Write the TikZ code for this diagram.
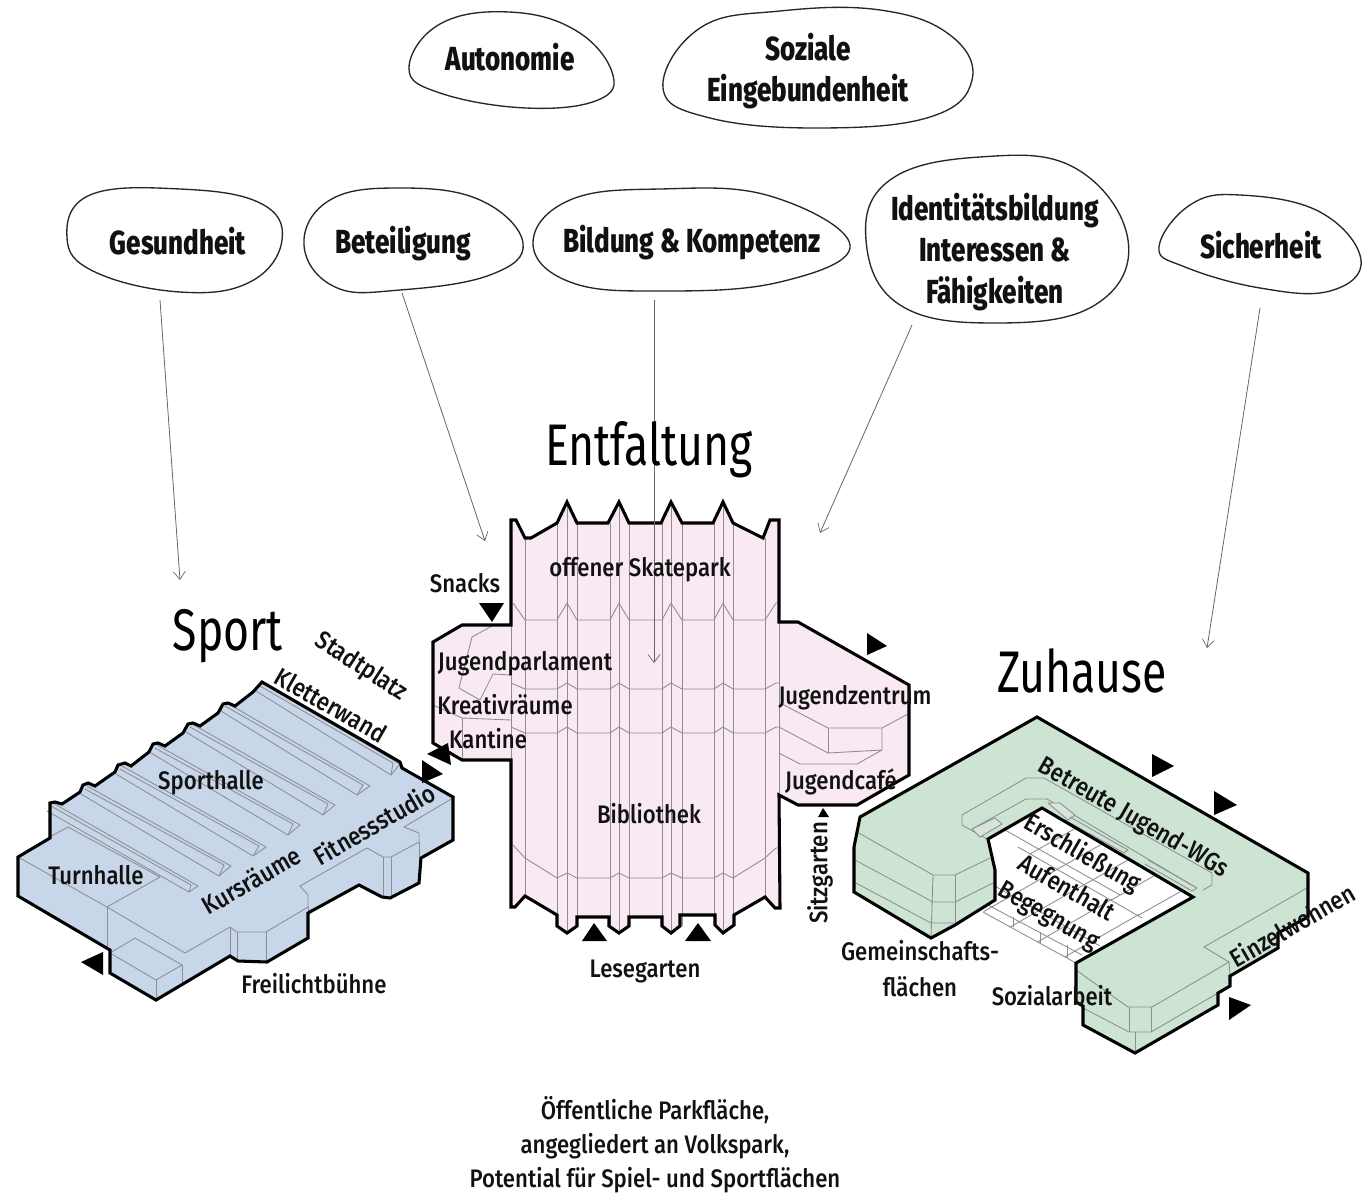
\documentclass[tikz,border=0pt]{standalone}
\usepackage{fontspec}
\setmainfont[FakeStretch=0.76]{Fira Sans}
\newfontfamily\lblfont[FakeStretch=0.875]{Fira Sans Medium}
\newfontfamily\bubfont[FakeStretch=0.78]{Fira Sans ExtraBold}
\usetikzlibrary{arrows.meta,calc}
\definecolor{sportc}{HTML}{C8D6EA}
\definecolor{entc}{HTML}{F8E9F3}
\definecolor{zuc}{HTML}{CDE4D3}
\definecolor{innerc}{HTML}{8E8E92}
\definecolor{txtc}{HTML}{111111}
\tikzset{
 x=0.75pt,y=-0.75pt,
 outline/.style={draw=black,line width=2.3pt,line join=miter},
 inner/.style={draw=innerc,line width=0.65pt,line join=round},
 tri/.style={fill=black,draw=none},
 bub/.style={draw=black!85,line width=1pt},
 arr/.style={draw=black!60,line width=0.6pt,-{Straight Barb[length=6pt,width=9pt,line width=0.5pt]}},
 lbl/.style={inner sep=0pt,text=txtc,font=\lblfont\fontsize{19}{20}\selectfont,align=center},
 ttl/.style={inner sep=0pt,text=black,font=\fontsize{44}{48}\selectfont},
 bubtxt/.style={inner sep=0pt,text=txtc,font=\bubfont\fontsize{25}{31}\selectfont,align=center},
}
\begin{document}
\begin{tikzpicture}
\useasboundingbox (0,0) rectangle (1362,1195);
\fill[white] (0,0) rectangle (1362,1195);
% ---------- Entfaltung
\fill[entc] (511,520)--(516,520)--(525,538)--(531,538)--(557,523)--(567,502)--(577,523)--(608,523)--(619,502)--(629,523)--(661,523)--(671,502)--(682,523)--(713,523)--(723,502)--(733,523)--(763,538)--(770,520)--(779,520)--(779,622)--(798,622)--(909,685)--(909,775)--(857,805)--(798,805)--(779,795)--(780,908)--(775,908)--(765,897)--(734,915)--(734,925)--(723,933)--(715,925)--(715,915)--(680,915)--(680,926)--(671,933)--(662,926)--(662,917)--(629,917)--(629,926)--(619,933)--(609,926)--(609,917)--(577,917)--(577,926)--(567,933)--(557,926)--(557,915)--(525,896)--(515,907)--(511,907)--(511,760)--(462,760)--(433,743)--(433,642)--(462,625)--(511,625)--cycle;
\foreach \x/\a/\b in {525/538/896,557/523/915,567/502/933,577/523/926,610/523/926,619/502/933,629/523/926,662/523/926,671/502/933,682/523/926,714/523/926,723/502/933,733/523/925,765/538/897,779/622/795,511/625/760}
  \draw[inner] (\x,\a)--(\x,\b);
\draw[inner] (513,603)--(525,620)--(557,620)--(567,603)--(577,620)--(610,620)--(619,603)--(629,620)--(662,620)--(671,603)--(682,620)--(714,620)--(723,603)--(733,620)--(765,620)--(776,603)--(779,603);
\foreach \y/\p in {689/683,733/727}
  \draw[inner] (511,\p)--(525,\y)--(557,\y)--(567,\p)--(577,\y)--(610,\y)--(619,\p)--(629,\y)--(662,\y)--(671,\p)--(682,\y)--(714,\y)--(723,\p)--(733,\y)--(765,\y)--(776,\p)--(779,\p);
\draw[inner] (513,845)--(525,858)--(557,878)--(567,873)--(577,878)--(610,878)--(619,873)--(629,878)--(662,878)--(671,873)--(682,878)--(714,878)--(723,873)--(733,878)--(765,858)--(776,848)--(779,848);
\draw[inner] (492,626)--(472,637)--(459,688)--(480,700)--(493,674)--(511,675);
\draw[inner] (433,705)--(462,718)--(511,720);
\draw[inner] (462,718)--(462,760);
\draw[inner] (782,704)--(828,728)--(882,728)--(908,714);
\draw[inner] (779,727)--(828,753)--(882,750)--(882,728);
\draw[inner] (828,728)--(828,753);
\draw[inner] (882,750)--(857,764)--(800,764)--(779,753);
\draw[outline] (511,520)--(516,520)--(525,538)--(531,538)--(557,523)--(567,502)--(577,523)--(608,523)--(619,502)--(629,523)--(661,523)--(671,502)--(682,523)--(713,523)--(723,502)--(733,523)--(763,538)--(770,520)--(779,520)--(779,622)--(798,622)--(909,685)--(909,775)--(857,805)--(798,805)--(779,795)--(780,908)--(775,908)--(765,897)--(734,915)--(734,925)--(723,933)--(715,925)--(715,915)--(680,915)--(680,926)--(671,933)--(662,926)--(662,917)--(629,917)--(629,926)--(619,933)--(609,926)--(609,917)--(577,917)--(577,926)--(567,933)--(557,926)--(557,915)--(525,896)--(515,907)--(511,907)--(511,760)--(462,760)--(433,743)--(433,642)--(462,625)--(511,625)--cycle;
% ---------- Sport
\fill[sportc] (18,857)--(50,838)--(50,803)--(55,802)--(62,804)--(80,792)--(83,785)--(88,783)--(95,786)--(115,772)--(118,765)--(125,763)--(131,766)--(149,752)--(153,744)--(158,743)--(165,746)--(183,733)--(188,724)--(193,723)--(200,726)--(218,713)--(223,704)--(228,703)--(235,706)--(253,692)--(262,682)--(400,762)--(402,768)--(453,797)--(453,840)--(421,858)--(419,883)--(390,898)--(382,897)--(359,885)--(308,913)--(308,938)--(267,962)--(238,961)--(230,956)--(156,1000)--(110,973)--(110,950)--(18,896)--cycle;
\foreach \x/\y/\a/\b/\c/\d in {262/683/400/764/-9/11,227/703/370/786/-13/9,192/724/335/805/-12/10,157/745/300/825/-12/10,122/766/266/847/-13/9,87/786/231/866/-12/10,53/803/198/886/-9/6}{
  \draw[inner] (\x,\y)--(\a,\b)--(\a+\c,\b+\d)--(\x-6,\y+8);
  \draw[inner] (\x-2,\y+3)--(\a-7,\b-1)--(\a+\c,\b+\d);
}
\draw[inner] (18,857)--(107,907)--(185,953)--(230,927)--(237,932)--(266,932)--(308,907)--(308,895)--(300,886)--(367,848)--(383,857)--(391,857)--(419,842)--(419,833)--(404,827)--(453,798);
\draw[inner] (107,907)--(107,948);
\draw[inner] (107,907)--(160,877)--(68,827)--(48,838);
\draw[inner] (230,927)--(230,955);\draw[inner] (237,932)--(237,960);\draw[inner] (266,932)--(266,962);
\draw[inner] (308,907)--(308,938);\draw[inner] (383,857)--(383,897);\draw[inner] (391,857)--(391,898);\draw[inner] (419,842)--(419,883);
\draw[inner] (110,953)--(135,938)--(182,965)--(156,980)--cycle;
\draw[inner] (156,980)--(156,1000);\draw[inner] (182,965)--(182,984);
\draw[outline] (18,857)--(50,838)--(50,803)--(55,802)--(62,804)--(80,792)--(83,785)--(88,783)--(95,786)--(115,772)--(118,765)--(125,763)--(131,766)--(149,752)--(153,744)--(158,743)--(165,746)--(183,733)--(188,724)--(193,723)--(200,726)--(218,713)--(223,704)--(228,703)--(235,706)--(253,692)--(262,682)--(400,762)--(402,768)--(453,797)--(453,840)--(421,858)--(419,883)--(390,898)--(382,897)--(359,885)--(308,913)--(308,938)--(267,962)--(238,961)--(230,956)--(156,1000)--(110,973)--(110,950)--(18,896)--cycle;
% ---------- Zuhause
\begin{scope}
\fill[white] (988,839)--(1042,808)--(1193,897)--(1076,963)--(983,912)--(995,900)--(995,870)--cycle;
\clip (988,839)--(1042,808)--(1193,897)--(1076,963)--(983,912)--(995,900)--(995,870)--cycle;
\foreach \t in {0,27,...,135}{
  \draw[inner] (983+\t,912+0.56*\t)--++(75,-43);
  \draw[inner] (1030+\t,854+0.57*\t)--++(46,-26);
}
\draw[inner] (1018,847)--(1142,918);
\draw[inner] (993,885)--(1100,946);
\draw[inner] (1005,830)--(1120,895);
\end{scope}
\draw[inner] (983,912)--(1076,963);
\draw[inner] (988,905)--(1082,955);
\draw[inner] (1013,917)--(1013,927);\draw[inner] (1040,932)--(1040,943);\draw[inner] (1067,945)--(1067,958);
\fill[zuc] (860,817)--(1037,717)--(1308,873)--(1308,917)--(1278,933)--(1278,948)--(1230,976)--(1230,986)--(1218,993)--(1218,1005)--(1135,1053)--(1083,1025)--(1083,1006)--(1076,1002)--(1076,963)--(1193,897)--(1042,808)--(988,839)--(995,870)--(995,900)--(955,925)--(931,938)--(854,892)--(854,847)--cycle;
\draw[inner] (857,832)--(933,875)--(955,875)--(990,858);
\draw[inner] (855,860)--(933,902)--(955,902)--(993,883);
\draw[inner] (854,882)--(931,923)--(955,923);
\draw[inner] (933,875)--(931,938);\draw[inner] (955,875)--(955,925);
\draw[inner] (1076,970)--(1128,1007)--(1152,1007)--(1229,962)--(1230,976);
\draw[inner] (1229,962)--(1204,947)--(1307,888);
\draw[inner] (1083,1008)--(1129,1032)--(1151,1032)--(1218,993);
\draw[inner] (1129,1007)--(1129,1032);\draw[inner] (1151,1007)--(1151,1032);\draw[inner] (1135,1032)--(1135,1053);
\draw[inner] (987,839)--(962,825)--(962,815)--(1026,778)--(1044,778)--(1212,873)--(1212,885)--(1203,890);
\draw[inner] (972,829)--(1026,799)--(1047,799)--(1195,887);
\draw[inner,fill=zuc!70!gray!50] (972,829)--(995,818)--(1002,824)--(980,837)--cycle;
\draw[inner,fill=zuc!70!gray!50] (1048,803)--(1060,803)--(1075,815)--(1068,820)--cycle;
\draw[inner] (1070,817)--(1128,850)--(1124,853)--(1065,820);
\draw[inner] (1148,860)--(1197,888)--(1192,891)--(1145,864);
\draw[outline] (860,817)--(1037,717)--(1308,873)--(1308,917)--(1278,933)--(1278,948)--(1230,976)--(1230,986)--(1218,993)--(1218,1005)--(1135,1053)--(1083,1025)--(1083,1006)--(1076,1002)--(1076,963)--(1193,897)--(1042,808)--(988,839)--(995,870)--(995,900)--(955,925)--(931,938)--(854,892)--(854,847)--cycle;
% ---------- triangles
\fill[tri] (479,603)--(504,603)--(492,622)--cycle;
\fill[tri] (867,633)--(887,646)--(867,655)--cycle;
\fill[tri] (427,754)--(448,743)--(451,765)--cycle;
\fill[tri] (422,760)--(443,774)--(422,783)--cycle;
\fill[tri] (81,962)--(103,952)--(103,975)--cycle;
\fill[tri] (582,941)--(607,941)--(594,923)--cycle;
\fill[tri] (685,941)--(711,941)--(698,923)--cycle;
\fill[tri] (818,817)--(829,817)--(823,808)--cycle;
\fill[tri] (1152,754)--(1174,766)--(1152,777)--cycle;
\fill[tri] (1214,791)--(1237,805)--(1214,815)--cycle;
\fill[tri] (1229,997)--(1251,1005)--(1229,1020)--cycle;
% ---------- bubbles
\draw[bub] plot[smooth cycle,tension=0.7] coordinates {(409,68)(440,24)(509,12)(575,30)(612,72)(598,100)(526,108)(440,93)};
\draw[bub] plot[smooth cycle,tension=0.7] coordinates {(663,88)(700,28)(780,11)(880,10)(950,35)(972,80)(930,117)(820,128)(710,118)};
\draw[bub] plot[smooth cycle,tension=0.7] coordinates {(67,238)(90,195)(180,189)(260,203)(282,240)(250,282)(180,292)(95,272)};
\draw[bub] plot[smooth cycle,tension=0.7] coordinates {(304,245)(330,200)(400,188)(480,200)(523,243)(490,275)(400,290)(335,287)};
\draw[bub] plot[smooth cycle,tension=0.7] coordinates {(533,243)(570,200)(660,189)(770,196)(850,245)(780,282)(660,291)(570,282)};
\draw[bub] plot[smooth cycle,tension=0.7] coordinates {(866,240)(890,180)(980,157)(1075,168)(1128,240)(1095,305)(995,323)(900,305)};
\draw[bub] plot[smooth cycle,tension=0.7] coordinates {(1159,247)(1190,205)(1240,195)(1320,212)(1361,260)(1330,291)(1260,288)(1185,267)};
% ---------- bubble texts
\node[bubtxt] (autonomie) at (510,57) {Autonomie};
\node[bubtxt] (soziale) at (808,71) {Soziale\\Eingebundenheit};
\node[bubtxt] (gesund) at (178,241) {Gesundheit};
\node[bubtxt] (beteil) at (403,244) {Beteiligung};
\node[bubtxt] (bildung) at (692,243) {Bildung \& Kompetenz};
\node[bubtxt] (ident) at (995,252) {Identitätsbildung\\Interessen \&\\Fähigkeiten};
\node[bubtxt] (sicher) at (1261,245) {Sicherheit};
% ---------- arrows
\coordinate (sa) at (160,300);\coordinate (ea) at (180,580);
\coordinate (sb) at (402,293);\coordinate (eb) at (485,541);
\coordinate (sc) at (654,300);\coordinate (ec) at (654,663);
\coordinate (sd) at (912,325);\coordinate (ed) at (820,533);
\coordinate (se) at (1260,308);\coordinate (ee) at (1207,648);
\draw[arr] (sa)--(ea);\draw[arr] (sb)--(eb);\draw[arr] (sc)--(ec);\draw[arr] (sd)--(ed);\draw[arr] (se)--(ee);
% ---------- titles
\node[ttl] (tent) at (649,450) {Entfaltung};
\node[ttl] (tsport) at (228,636) {Sport};
\node[ttl] (tzu) at (1082,671) {Zuhause};
% ---------- labels
\node[lbl] (l1) at (640,570) {offener Skatepark};
\node[lbl] (l2) at (465,583) {Snacks};
\node[lbl] (l3) at (525,664) {Jugendparlament};
\node[lbl] (l4) at (505,705) {Kreativräume};
\node[lbl] (l5) at (488,739) {Kantine};
\node[lbl] (l6) at (855,698) {Jugendzentrum};
\node[lbl] (l7) at (841,782) {Jugendcafé};
\node[lbl] (l8) at (649,814) {Bibliothek};
\node[lbl] (l9) at (645,971) {Lesegarten};
\node[lbl,rotate=90] (l10) at (820,873) {Sitzgarten};
\node[lbl] (l11) at (211,783) {Sporthalle};
\node[lbl] (l12) at (96,875) {Turnhalle};
\node[lbl,rotate=30] (l13) at (251,880) {Kursräume};
\node[lbl,rotate=30] (l14) at (374,824) {Fitnessstudio};
\node[lbl] (l15) at (314,984) {Freilichtbühne};
\node[lbl,rotate=-33] (l16) at (361,667) {Stadtplatz};
\node[lbl,rotate=-30] (l17) at (331,705) {Kletterwand};
\node[lbl,rotate=-30] (l18) at (1133,818) {Betreute Jugend-WGs};
\node[lbl,rotate=-30] (l19) at (1082,854) {Erschließung};
\node[lbl,rotate=-30] (l20) at (1067,887) {Aufenthalt};
\node[lbl,rotate=-30] (l21) at (1048,917) {Begegnung};
\node[lbl,rotate=30] (l22) at (1292,925) {Einzelwohnen};
\node[lbl,font=\lblfont\fontsize{19}{27}\selectfont] (l23) at (920,969) {Gemeinschafts-\\flächen};
\node[lbl] (l24) at (1052,996) {Sozialarbeit};
\node[lbl,font=\lblfont\fontsize{19}{25.5}\selectfont] (l25) at (655,1145) {Öffentliche Parkfläche,\\angegliedert an Volkspark,\\Potential für Spiel- und Sportflächen};
\end{tikzpicture}
\end{document}
